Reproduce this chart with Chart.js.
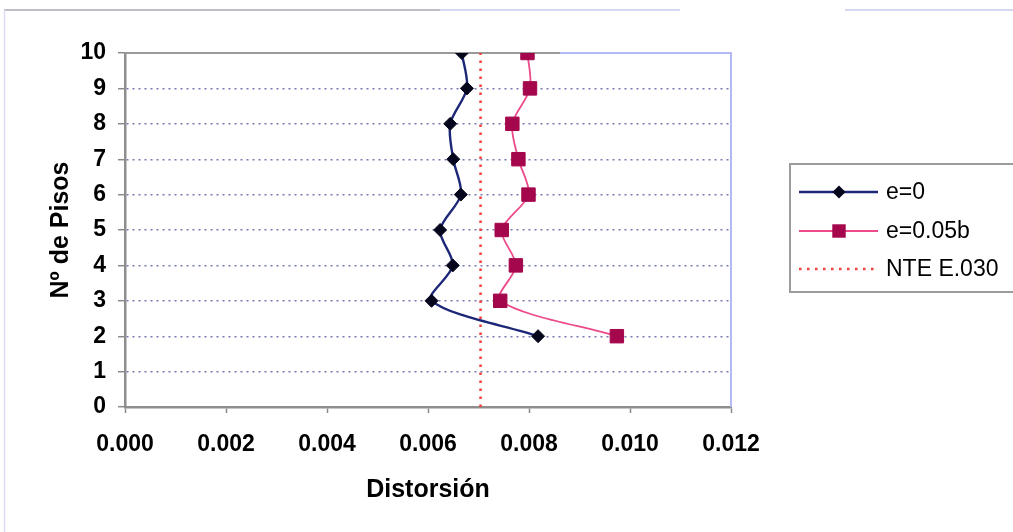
<!DOCTYPE html>
<html>
<head>
<meta charset="utf-8">
<script src="https://cdn.jsdelivr.net/npm/chart.js@4/dist/chart.umd.min.js"></script>
<style>
  html, body { margin: 0; padding: 0; background: #ffffff; }
  #wrap { width: 1013px; height: 532px; }
</style>
</head>
<body>
<div id="wrap"><canvas id="c" width="1013" height="532"></canvas></div>
<script>
// Storey numbers and inter-storey drift for each eccentricity case
const pisos = [10, 9, 8, 7, 6, 5, 4, 3, 2];
const distorsionE0 = [0.00667, 0.00677, 0.00644, 0.00650, 0.00665, 0.00624, 0.00649, 0.00607, 0.00818];
const distorsionE005 = [0.00797, 0.00802, 0.00767, 0.00779, 0.00799, 0.00746, 0.00774, 0.00743, 0.00974];

// Code drift limit (vertical reference line)
const limiteNTE = 0.00704;
const limiteAlturas = [0, 10];

// Axis ticks
const xTicks = [0, 0.002, 0.004, 0.006, 0.008, 0.010, 0.012];
const xTickLabels = ['0.000', '0.002', '0.004', '0.006', '0.008', '0.010', '0.012'];
const yTicks = [0, 1, 2, 3, 4, 5, 6, 7, 8, 9, 10];

const seriesNames = ['e=0', 'e=0.05b', 'NTE E.030'];
const axisTitles = { x: 'Distorsión', y: 'Nº de Pisos' };

const FONT = "'Liberation Sans', Arial, sans-serif";

function toPoints(xs, ys) {
  return xs.map((x, i) => ({ x: x, y: ys[i] }));
}

function markerPath(ctx, style, x, y, r) {
  ctx.beginPath();
  if (style === 'rect') {
    const s = Math.SQRT1_2 * r;
    ctx.rect(x - s, y - s, 2 * s, 2 * s);
  } else {
    ctx.moveTo(x - r, y);
    ctx.lineTo(x, y - r);
    ctx.lineTo(x + r, y);
    ctx.lineTo(x, y + r);
    ctx.closePath();
  }
}

// Plot-area frame and outer chart frame
const frames = {
  id: 'frames',
  beforeDatasetsDraw(chart) {
    const { ctx, chartArea: a } = chart;
    ctx.save();
    // outer chart frame
    ctx.lineWidth = 1.5;
    ctx.strokeStyle = '#a9a9b4';
    ctx.beginPath(); ctx.moveTo(4, 10); ctx.lineTo(440, 10); ctx.stroke();
    ctx.strokeStyle = '#c6c8ee';
    ctx.beginPath(); ctx.moveTo(440, 10); ctx.lineTo(680, 10); ctx.stroke();
    ctx.beginPath(); ctx.moveTo(845, 10); ctx.lineTo(1013, 10); ctx.stroke();
    ctx.strokeStyle = '#dcdcf6';
    ctx.beginPath(); ctx.moveTo(4.5, 10); ctx.lineTo(4.5, 532); ctx.stroke();
    // plot area top and right edges
    ctx.lineWidth = 2;
    ctx.strokeStyle = '#9a9a9a';
    ctx.beginPath(); ctx.moveTo(a.left, a.top); ctx.lineTo(560, a.top); ctx.stroke();
    ctx.strokeStyle = '#b4b8f2';
    ctx.beginPath(); ctx.moveTo(560, a.top); ctx.lineTo(a.right, a.top); ctx.lineTo(a.right, a.bottom); ctx.stroke();
    ctx.restore();
  }
};

// Boxed legend with line samples and markers
const legendBox = {
  id: 'legendBox',
  afterDraw(chart) {
    const ctx = chart.ctx;
    ctx.save();
    ctx.strokeStyle = '#9c9c9c';
    ctx.lineWidth = 2;
    ctx.strokeRect(790, 164, 240, 128);
    const rows = [192, 231, 269];
    chart.data.datasets.forEach((ds, i) => {
      const y = rows[i];
      ctx.strokeStyle = ds.borderColor;
      ctx.lineWidth = ds.borderWidth;
      ctx.setLineDash(ds.borderDash || []);
      ctx.beginPath(); ctx.moveTo(799, y); ctx.lineTo(878, y); ctx.stroke();
      ctx.setLineDash([]);
      if (ds.pointRadius > 0) {
        markerPath(ctx, ds.pointStyle, 839, y, ds.pointRadius);
        ctx.fillStyle = ds.pointBackgroundColor;
        ctx.fill();
      }
      ctx.fillStyle = '#000000';
      ctx.font = '23px ' + FONT;
      ctx.textBaseline = 'middle';
      ctx.textAlign = 'left';
      ctx.fillText(ds.label, 886, y + 1);
    });
    ctx.restore();
  }
};

new Chart(document.getElementById('c'), {
  type: 'scatter',
  data: {
    datasets: [
      {
        label: seriesNames[0],
        data: toPoints(distorsionE0, pisos),
        showLine: true,
        borderColor: '#1d2778',
        borderWidth: 2.4,
        tension: 0.3,
        pointStyle: 'rectRot',
        pointRadius: 6.5,
        pointHoverRadius: 6.5,
        pointBackgroundColor: '#05061c',
        pointBorderColor: '#05061c',
        pointBorderWidth: 1
      },
      {
        label: seriesNames[1],
        data: toPoints(distorsionE005, pisos),
        showLine: true,
        borderColor: '#ec4a8a',
        borderWidth: 1.8,
        tension: 0.3,
        pointStyle: 'rect',
        pointRadius: 9.5,
        pointHoverRadius: 9.5,
        pointBackgroundColor: '#a4074c',
        pointBorderColor: '#a4074c',
        pointBorderWidth: 1
      },
      {
        label: seriesNames[2],
        data: toPoints([limiteNTE, limiteNTE], limiteAlturas),
        showLine: true,
        borderColor: '#f2403e',
        borderWidth: 2.5,
        borderDash: [2.5, 5.5],
        pointRadius: 0,
        pointHoverRadius: 0
      }
    ]
  },
  options: {
    responsive: false,
    devicePixelRatio: 1,
    animation: false,
    events: [],
    layout: { padding: { left: 0, right: 282, top: 53, bottom: 0 } },
    plugins: {
      legend: { display: false },
      tooltip: { enabled: false }
    },
    scales: {
      x: {
        type: 'linear',
        min: 0,
        max: 0.012,
        afterBuildTicks: (s) => { s.ticks = xTicks.map(v => ({ value: v })); },
        afterFit: (s) => { s.height = 125; },
        ticks: {
          callback: (v) => {
            const i = xTicks.findIndex(t => Math.abs(t - v) < 1e-9);
            return i >= 0 ? xTickLabels[i] : '';
          },
          color: '#000000',
          font: { family: FONT, size: 23, weight: 'bold' },
          padding: 18,
          maxRotation: 0
        },
        grid: {
          drawOnChartArea: false,
          drawTicks: true,
          tickLength: 6,
          tickColor: '#8a8a8a',
          tickWidth: 1.5
        },
        border: { display: true, color: '#8e8e8e', width: 2.5 },
        title: {
          display: true,
          text: axisTitles.x,
          color: '#000000',
          font: { family: FONT, size: 25, weight: 'bold' },
          padding: { top: 0, bottom: 27 }
        }
      },
      y: {
        type: 'linear',
        min: 0,
        max: 10,
        afterBuildTicks: (s) => { s.ticks = yTicks.map(v => ({ value: v })); },
        afterFit: (s) => { s.width = 125; },
        ticks: {
          color: '#000000',
          font: { family: FONT, size: 23, weight: 'bold' },
          padding: 12
        },
        grid: {
          color: '#767bb0',
          lineWidth: 1.4,
          borderDash: [2, 4],
          drawTicks: true,
          tickLength: 7,
          tickColor: '#8a8a8a',
          tickWidth: 1.5,
          tickBorderDash: []
        },
        border: { display: true, color: '#8e8e8e', width: 2.5, dash: [2, 4] },
        title: {
          display: true,
          text: axisTitles.y,
          color: '#000000',
          font: { family: FONT, size: 25, weight: 'bold' },
          padding: { top: 46, bottom: 0 }
        }
      }
    }
  },
  plugins: [frames, legendBox]
});
</script>
</body>
</html>
